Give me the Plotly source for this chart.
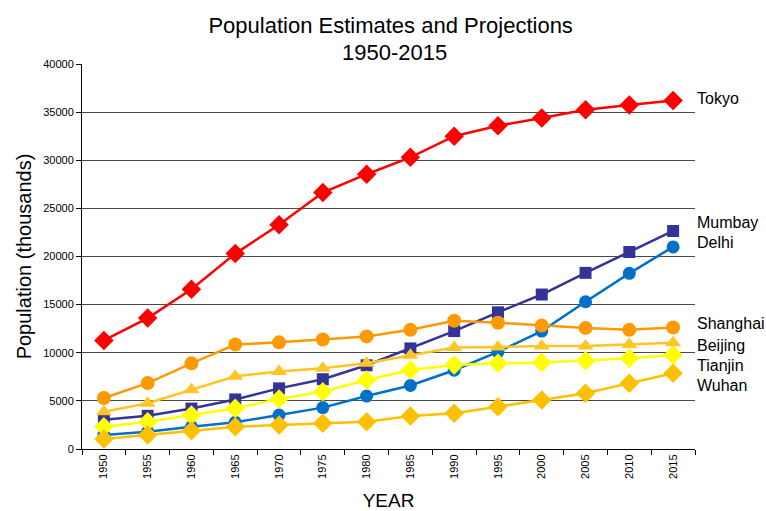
import plotly.graph_objects as go

years = ["1950", "1955", "1960", "1965", "1970", "1975", "1980",
         "1985", "1990", "1995", "2000", "2005", "2010", "2015"]

tokyo = [11275, 13600, 16600, 20300, 23300, 26650, 28550, 30300, 32500, 33580, 34400, 35250, 35750, 36200]
mumbay = [3050, 3450, 4200, 5150, 6300, 7250, 8700, 10450, 12250, 14200, 16050, 18300, 20470, 22650]
delhi = [1450, 1800, 2300, 2780, 3530, 4300, 5500, 6600, 8180, 10100, 12250, 15300, 18250, 21000]
shanghai = [5300, 6850, 8900, 10850, 11080, 11380, 11700, 12380, 13320, 13120, 12820, 12580, 12380, 12620]
beijing = [3880, 4750, 6150, 7550, 8050, 8400, 8900, 9750, 10550, 10600, 10700, 10700, 10850, 11050]
tianjin = [2320, 2840, 3530, 4230, 5190, 5950, 7170, 8210, 8730, 8900, 8980, 9180, 9420, 9770]
wuhan = [1040, 1450, 1900, 2320, 2490, 2670, 2840, 3430, 3710, 4400, 5090, 5790, 6830, 7870]

title_line1 = "Population Estimates and Projections"
title_line2 = "1950-2015"

series = [
    ("Tokyo", tokyo, "#FF0000", "diamond", 15),
    ("Mumbay", mumbay, "#333399", "square", 12),
    ("Delhi", delhi, "#0070C8", "circle", 13),
    ("Shanghai", shanghai, "#FF9900", "circle", 14),
    ("Beijing", beijing, "#FFC526", "triangle-up", 14),
    ("Tianjin", tianjin, "#FFFF00", "diamond", 15),
    ("Wuhan", wuhan, "#FFC000", "diamond", 15),
]

# right-hand label anchor values (y, thousands)
label_y = {"Tokyo": 36450, "Mumbay": 23550, "Delhi": 21450, "Shanghai": 13000,
           "Beijing": 10800, "Tianjin": 8650, "Wuhan": 6550}

fig = go.Figure()
for name, vals, col, sym, sz in series:
    fig.add_trace(go.Scatter(
        x=years, y=vals, name=name, mode="lines+markers",
        line=dict(color=col, width=2.5),
        marker=dict(symbol=sym, size=sz, color=col, line=dict(width=0)),
        showlegend=False,
    ))

for name, _, _, _, _ in series:
    fig.add_annotation(
        x=1, xref="paper", xshift=0, xanchor="left",
        y=label_y[name], yref="y", yanchor="middle",
        text=name, showarrow=False,
        font=dict(family="Liberation Sans, Arial", size=16, color="#000000"),
    )

# second title line (plot area spans pixel rows 64..449)
fig.add_annotation(
    x=0.51, xref="paper", xanchor="center",
    y=(449 - 52) / 385, yref="paper", yanchor="middle",
    text=title_line2, showarrow=False,
    font=dict(family="Liberation Sans, Arial", size=22, color="#000000"),
)

fig.update_layout(
    width=766, height=511,
    margin=dict(l=82, r=71, t=64, b=62),
    paper_bgcolor="white", plot_bgcolor="white",
    font=dict(family="Liberation Sans, Arial", color="#000000"),
    title=dict(
        text=title_line1,
        x=0.51, xanchor="center", y=1 - 25 / 511, yanchor="middle",
        font=dict(size=22, color="#000000"),
    ),
    xaxis=dict(
        type="category", range=[-0.5, 13.5],
        tickson="boundaries", ticks="outside", ticklen=5, tickcolor="#000000",
        tickangle=-90, tickfont=dict(size=11),
        showline=True, linecolor="#000000", linewidth=1,
        showgrid=False, automargin=False,
        title=dict(text="YEAR", font=dict(size=19), standoff=16),
    ),
    yaxis=dict(
        range=[0, 40000], dtick=5000, tickformat="d",
        ticks="outside", ticklen=5, tickcolor="#000000",
        tickfont=dict(size=11), automargin=False,
        showline=True, linecolor="#000000", linewidth=1,
        showgrid=True, gridcolor="#4a4a4a", gridwidth=1,
        zeroline=False,
        title=dict(text="Population (thousands)", font=dict(size=20), standoff=6),
    ),
)

fig.write_html("out.html")
